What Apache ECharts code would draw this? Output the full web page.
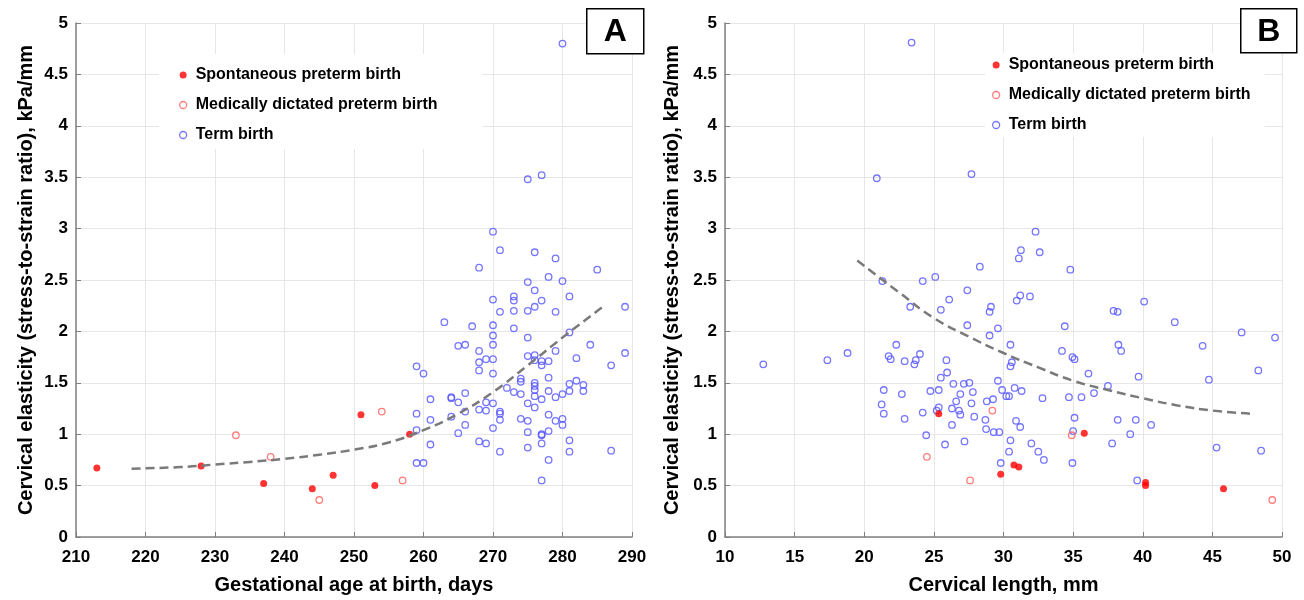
<!DOCTYPE html>
<html>
<head>
    <meta charset="utf-8">
    <title>Cervical elasticity</title>
    <style>
        body { margin: 0; padding: 0; background: #fff; }
        #chart { width: 1304px; height: 600px; }
    </style>
</head>
<body>
    <div id="chart"></div>
    <script src="https://cdn.jsdelivr.net/npm/echarts@6/dist/echarts.min.js"></script>
    <script>
        // panel A: gestational age at birth (days) vs elasticity
        const gaSpont = [[213,0.67],[228,0.69],[237,0.52],[244,0.47],[247,0.60],[251,1.19],[253,0.50],[258,1.00]];
        const gaMed = [[233,0.99],[238,0.78],[245,0.36],[254,1.22],[257,0.55]];
        const gaTerm = [
            [280,4.80],[275,3.48],[277,3.52],[270,2.97],[271,2.79],[276,2.77],[279,2.71],[268,2.62],
            [285,2.60],[278,2.53],[275,2.48],[280,2.49],[276,2.40],[273,2.34],[281,2.34],[270,2.31],
            [273,2.30],[277,2.30],[289,2.24],[276,2.24],[275,2.20],[273,2.20],[279,2.19],[271,2.19],
            [263,2.09],[267,2.05],[270,2.06],[273,2.03],[281,1.99],[270,1.96],[275,1.94],[266,1.87],
            [265,1.86],[284,1.87],[270,1.87],[268,1.81],[279,1.81],[289,1.79],[275,1.76],[276,1.77],
            [269,1.73],[270,1.73],[282,1.74],[276,1.72],[278,1.71],[277,1.71],[268,1.70],[277,1.67],
            [287,1.67],[259,1.66],[268,1.62],[260,1.59],[270,1.59],[278,1.55],[274,1.54],[274,1.51],
            [282,1.52],[281,1.49],[276,1.50],[276,1.47],[283,1.48],[272,1.45],[278,1.42],[281,1.42],
            [283,1.42],[276,1.43],[273,1.41],[274,1.39],[280,1.39],[276,1.37],[279,1.36],[277,1.34],
            [264,1.36],[264,1.35],[266,1.40],[261,1.34],[265,1.31],[269,1.31],[270,1.30],[275,1.30],
            [268,1.24],[269,1.23],[266,1.22],[271,1.22],[271,1.20],[276,1.26],[259,1.20],[278,1.19],
            [264,1.17],[274,1.15],[271,1.14],[261,1.14],[275,1.13],[279,1.13],[280,1.15],[280,1.09],
            [266,1.09],[270,1.06],[259,1.04],[278,1.03],[265,1.01],[275,1.02],[277,1.00],[277,0.99],
            [281,0.94],[268,0.93],[269,0.91],[261,0.90],[277,0.91],[275,0.87],[271,0.83],[281,0.83],
            [287,0.84],[278,0.75],[259,0.72],[260,0.72],[277,0.55]
        ];
        const gaTrend = [[218,0.665],[225,0.68],[230,0.705],[235,0.73],[240,0.76],[245,0.80],[250,0.85],
            [255,0.92],[260,1.04],[265,1.20],[270,1.41],[275,1.67],[280,1.94],[285.8,2.24]];

        // panel B: cervical length (mm) vs elasticity
        const clSpont = [[25.35,1.20],[29.8,0.61],[30.75,0.70],[31.1,0.68],[35.8,1.01],[40.2,0.53],[40.2,0.50],[45.8,0.47]];
        const clMed = [[24.5,0.78],[27.6,0.55],[29.2,1.23],[34.9,0.99],[49.3,0.36]];
        const clTerm = [
            [23.4,4.81],[20.9,3.49],[27.7,3.53],[32.3,2.97],[31.25,2.79],[31.1,2.71],[32.6,2.77],[28.3,2.63],
            [34.8,2.60],[25.1,2.53],[21.3,2.49],[24.2,2.49],[27.4,2.40],[31.2,2.35],[31.9,2.34],[30.95,2.30],
            [26.1,2.31],[40.1,2.29],[29.1,2.24],[23.3,2.24],[25.5,2.21],[29.0,2.19],[37.9,2.20],[38.2,2.19],
            [27.4,2.06],[34.4,2.05],[42.3,2.09],[29.6,2.03],[47.1,1.99],[49.5,1.94],[29.0,1.96],[22.3,1.87],
            [30.5,1.87],[38.25,1.87],[44.3,1.86],[18.8,1.79],[38.45,1.81],[34.2,1.81],[24.0,1.78],[21.75,1.76],
            [34.95,1.75],[35.1,1.73],[17.35,1.72],[21.9,1.73],[22.9,1.71],[23.7,1.72],[25.9,1.72],[30.6,1.70],
            [23.6,1.68],[12.75,1.68],[30.5,1.66],[48.3,1.62],[25.95,1.60],[36.1,1.59],[25.5,1.55],[39.7,1.56],
            [29.6,1.52],[44.75,1.53],[27.55,1.50],[26.4,1.49],[27.15,1.49],[37.5,1.47],[30.8,1.45],[21.4,1.43],
            [24.75,1.42],[25.35,1.43],[29.9,1.43],[31.3,1.42],[27.8,1.41],[36.5,1.40],[22.7,1.39],[26.9,1.39],
            [30.2,1.37],[30.4,1.37],[29.25,1.34],[32.8,1.35],[34.7,1.36],[35.6,1.36],[26.6,1.32],[28.8,1.32],
            [21.25,1.29],[27.7,1.30],[25.35,1.26],[26.3,1.25],[26.8,1.23],[25.2,1.23],[21.4,1.20],[24.2,1.21],
            [26.9,1.19],[27.9,1.17],[22.9,1.15],[28.7,1.14],[35.1,1.16],[39.5,1.14],[38.2,1.14],[30.9,1.13],
            [31.2,1.07],[26.3,1.09],[40.6,1.09],[28.75,1.05],[29.3,1.02],[29.7,1.02],[35.0,1.03],[24.45,0.99],
            [39.1,1.00],[30.5,0.94],[27.2,0.93],[32.0,0.91],[25.8,0.90],[37.8,0.91],[45.3,0.87],[48.5,0.84],
            [32.5,0.83],[30.4,0.83],[32.9,0.75],[29.8,0.72],[34.95,0.72],[39.6,0.55]
        ];
        const clTrend = [[19.5,2.69],[22.5,2.38],[25,2.13],[27.5,1.95],[30,1.79],[32.5,1.65],[35,1.52],
            [37.5,1.43],[40,1.35],[42.5,1.28],[45,1.23],[47.7,1.20]];

        const yTicks = { min: 0, max: 5, interval: 0.5 };
        const names = ['Spontaneous preterm birth', 'Medically dictated preterm birth', 'Term birth'];

        const font = 'Liberation Sans, Arial, sans-serif';
        const axisGray = '#808080';

        function xAxisOf(idx, min, max, interval, title) {
            return {
                gridIndex: idx, type: 'value', min: min, max: max, interval: interval,
                name: title, nameLocation: 'middle', nameGap: 38,
                nameTextStyle: { fontFamily: font, fontSize: 20, fontWeight: 'bold', color: '#000' },
                axisLine: { show: true, onZero: false, lineStyle: { color: axisGray, width: 1.5 } },
                axisTick: { show: true, inside: true, length: 5, lineStyle: { color: axisGray } },
                axisLabel: { margin: 12, fontFamily: font, fontSize: 17, fontWeight: 'bold', color: '#000' },
                splitLine: { show: true, lineStyle: { color: '#e6e6e6', width: 1 } }
            };
        }
        function yAxisOf(idx, gap) {
            return {
                gridIndex: idx, type: 'value', min: yTicks.min, max: yTicks.max, interval: yTicks.interval,
                name: 'Cervical elasticity (stress-to-strain ratio), kPa/mm',
                nameLocation: 'middle', nameGap: gap, nameRotate: 90,
                nameTextStyle: { fontFamily: font, fontSize: 20, fontWeight: 'bold', color: '#000' },
                axisLine: { show: true, onZero: false, lineStyle: { color: axisGray, width: 1.5 } },
                axisTick: { show: true, inside: true, length: 5, lineStyle: { color: axisGray } },
                axisLabel: { margin: 8, fontFamily: font, fontSize: 17, fontWeight: 'bold', color: '#000' },
                splitLine: { show: true, lineStyle: { color: '#e6e6e6', width: 1 } }
            };
        }
        function scatterSet(idx, spont, med, term, trend) {
            return [
                { name: names[2], type: 'scatter', xAxisIndex: idx, yAxisIndex: idx, data: term,
                  symbol: 'circle', symbolSize: 6.5,
                  itemStyle: { color: 'rgba(0,0,0,0)', borderColor: '#5252ff', borderWidth: 1.3 } },
                { name: names[1], type: 'scatter', xAxisIndex: idx, yAxisIndex: idx, data: med,
                  symbol: 'circle', symbolSize: 6.5,
                  itemStyle: { color: 'rgba(0,0,0,0)', borderColor: '#ff5c5c', borderWidth: 1.3 } },
                { name: names[0], type: 'scatter', xAxisIndex: idx, yAxisIndex: idx, data: spont,
                  symbol: 'circle', symbolSize: 7,
                  itemStyle: { color: '#ff0000' } },
                { name: 'trend' + idx, type: 'line', xAxisIndex: idx, yAxisIndex: idx, data: trend,
                  smooth: true, showSymbol: false, symbol: 'none', silent: true,
                  lineStyle: { color: '#7a7a7a', width: 2.5, type: [9, 5] } }
            ];
        }
        function legendAt(left, top, padding) {
            return {
                orient: 'vertical', left: left, top: top, data: names,
                backgroundColor: '#fff', padding: padding,
                itemWidth: 15, itemHeight: 7, itemGap: 10,
                itemStyle: { borderWidth: 1.3 },
                textStyle: { fontFamily: font, fontSize: 16, fontWeight: 'bold', color: '#000', lineHeight: 20 }
            };
        }
        function letterBox(x, y, w, h, letter) {
            return {
                type: 'group', left: x, top: y, z: 100,
                children: [
                    { type: 'rect', z: 100, shape: { x: 0, y: 0, width: w, height: h },
                      style: { fill: '#fff', stroke: '#000', lineWidth: 1.5 } },
                    { type: 'text', z: 101, x: w / 2, y: h / 2 + 1,
                      style: { text: letter, fill: '#000', font: 'bold 32px Liberation Sans, Arial, sans-serif',
                               textAlign: 'center', textVerticalAlign: 'middle' } }
                ]
            };
        }

        const chart = echarts.init(document.getElementById('chart'), null, { renderer: 'canvas' });
        chart.setOption({
            animation: false,
            backgroundColor: '#fff',
            grid: [
                { left: 76, right: 672, top: 23, bottom: 63 },
                { left: 725, right: 22, top: 23, bottom: 63 }
            ],
            xAxis: [
                xAxisOf(0, 210, 290, 10, 'Gestational age at birth, days'),
                xAxisOf(1, 10, 50, 5, 'Cervical length, mm')
            ],
            yAxis: [yAxisOf(0, 40), yAxisOf(1, 43)],
            legend: [
                legendAt(159, 54, [11, 45, 4, 20]),
                legendAt(985, 53, [2, 14, 2, 7])
            ],
            graphic: [
                letterBox(586, 8, 57, 45, 'A'),
                letterBox(1240, 8, 56, 44, 'B')
            ],
            series: [].concat(
                scatterSet(0, gaSpont, gaMed, gaTerm, gaTrend),
                scatterSet(1, clSpont, clMed, clTerm, clTrend)
            )
        });
    </script>
</body>
</html>
